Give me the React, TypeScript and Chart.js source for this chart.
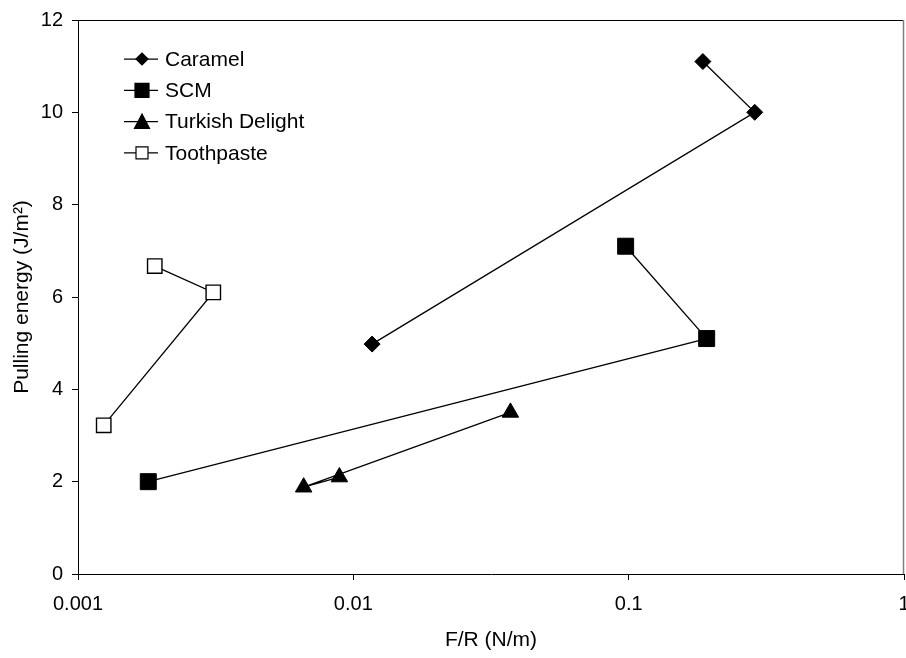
import React, { useEffect, useRef } from 'react';
import { Chart, registerables } from 'chart.js';

Chart.register(...registerables);

const seriesNames = ['Caramel', 'SCM', 'Turkish Delight', 'Toothpaste'];

const caramelX = [0.186, 0.287, 0.0117];
const caramelY = [11.1, 10.0, 4.98];

const scmX = [0.0975, 0.192, 0.0018];
const scmY = [7.1, 5.1, 2.0];

const turkishX = [0.0089, 0.0066, 0.0372];
const turkishY = [2.1, 1.88, 3.5];

const toothX = [0.0019, 0.0031, 0.00124];
const toothY = [6.67, 6.1, 3.22];

const xTicks = [0.001, 0.01, 0.1, 1];
const xTickLabels = ['0.001', '0.01', '0.1', '1'];
const yMin = 0;
const yMax = 12;
const yStep = 2;

const xTitle = 'F/R (N/m)';
const yTitle = 'Pulling energy (J/m²)';

const FONT = '"Liberation Sans", Arial, Helvetica, sans-serif';

function pts(xs: number[], ys: number[]) {
  return xs.map((x, i) => ({ x, y: ys[i] }));
}

function drawMarker(ctx: CanvasRenderingContext2D, style: string, x: number, y: number, size: number, fill: string) {
  ctx.beginPath();
  if (style === 'rectRot') {
    ctx.moveTo(x - size, y);
    ctx.lineTo(x, y - size);
    ctx.lineTo(x + size, y);
    ctx.lineTo(x, y + size);
    ctx.closePath();
  } else if (style === 'rect') {
    ctx.rect(x - size, y - size, size * 2, size * 2);
  } else if (style === 'triangle') {
    ctx.moveTo(x, y - size);
    ctx.lineTo(x + size, y + size * 0.9);
    ctx.lineTo(x - size, y + size * 0.9);
    ctx.closePath();
  }
  ctx.fillStyle = fill;
  ctx.fill();
  ctx.lineWidth = 1.2;
  ctx.strokeStyle = '#000';
  ctx.stroke();
}

const legendSizes = [6, 7, 7.5, 6];

const insideLegend = {
  id: 'insideLegend',
  afterDraw(chart: any) {
    const { ctx, chartArea } = chart;
    ctx.save();
    ctx.font = `21px ${FONT}`;
    ctx.textBaseline = 'middle';
    ctx.textAlign = 'left';
    chart.data.datasets.forEach((ds: any, i: number) => {
      const y = chartArea.top + 39 + i * 31.3;
      const x0 = chartArea.left + 46;
      ctx.strokeStyle = '#000';
      ctx.lineWidth = 1.25;
      ctx.beginPath();
      ctx.moveTo(x0, y);
      ctx.lineTo(x0 + 34, y);
      ctx.stroke();
      drawMarker(ctx, ds.pointStyle, x0 + 18, y, legendSizes[i], ds.pointBackgroundColor);
      ctx.fillStyle = '#000';
      ctx.fillText(ds.label, x0 + 41, y + 1);
    });
    ctx.restore();
  },
};

const frame = {
  id: 'frame',
  beforeDatasetsDraw(chart: any) {
    const { ctx, chartArea } = chart;
    ctx.save();
    ctx.lineWidth = 1;
    ctx.strokeStyle = '#000';
    ctx.beginPath();
    ctx.moveTo(chartArea.left, chartArea.top + 0.5);
    ctx.lineTo(chartArea.right, chartArea.top + 0.5);
    ctx.stroke();
    ctx.strokeStyle = '#808080';
    ctx.lineWidth = 1.5;
    ctx.beginPath();
    ctx.moveTo(chartArea.right - 0.5, chartArea.top);
    ctx.lineTo(chartArea.right - 0.5, chartArea.bottom);
    ctx.stroke();
    ctx.restore();
  },
};

const zeroPad = () => ({ left: 0, top: 0, right: 0, bottom: 0 });

export default function App() {
  const ref = useRef<HTMLCanvasElement | null>(null);

  useEffect(() => {
    document.body.style.margin = '0';
    if (!ref.current) return;
    Chart.defaults.color = '#000';
    Chart.defaults.font.family = FONT;
    const common = {
      showLine: true,
      borderColor: '#000',
      borderWidth: 1.3,
      tension: 0,
      pointBorderColor: '#000',
      pointBorderWidth: 1,
    };
    const chart = new Chart(ref.current, {
      type: 'scatter',
      data: {
        datasets: [
          { ...common, label: seriesNames[0], data: pts(caramelX, caramelY), pointStyle: 'rectRot', pointRadius: 8, pointBackgroundColor: '#000' },
          { ...common, label: seriesNames[1], data: pts(scmX, scmY), pointStyle: 'rect', pointRadius: 11.3, pointBackgroundColor: '#000' },
          { ...common, label: seriesNames[2], data: pts(turkishX, turkishY), pointStyle: 'triangle', pointRadius: 9.5, pointBackgroundColor: '#000' },
          { ...common, label: seriesNames[3], data: pts(toothX, toothY), pointStyle: 'rect', pointRadius: 10.2, pointBackgroundColor: '#fff', pointBorderWidth: 1.4 },
        ] as any,
      },
      options: {
        responsive: false,
        animation: false,
        events: [],
        layout: { autoPadding: false, padding: { top: 20, right: 2, left: 0, bottom: 0 } },
        plugins: {
          legend: { display: false },
          tooltip: { enabled: false },
        },
        scales: {
          x: {
            type: 'logarithmic',
            min: xTicks[0],
            max: xTicks[xTicks.length - 1],
            afterBuildTicks: (scale: any) => {
              scale.ticks = xTicks.map((v) => ({ value: v }));
            },
            afterFit: (scale: any) => {
              scale.height = 84;
              scale.paddingLeft = 0;
              scale.paddingRight = 0;
              scale.getPadding = zeroPad;
            },
            ticks: {
              autoSkip: false,
              maxRotation: 0,
              padding: 12,
              font: { size: 20 },
              color: '#000',
              callback: (_v: any, i: number) => xTickLabels[i],
            },
            grid: {
              display: true,
              drawOnChartArea: false,
              drawTicks: true,
              tickLength: 6,
              color: '#000',
              tickColor: '#000',
            },
            border: { display: true, color: '#000', width: 1 },
            title: { display: true, text: xTitle, font: { size: 21 }, color: '#000', padding: { top: 0, bottom: 5 } },
          },
          y: {
            type: 'linear',
            min: yMin,
            max: yMax,
            afterFit: (scale: any) => {
              scale.width = 78;
              scale.paddingTop = 0;
              scale.paddingBottom = 0;
              scale.getPadding = zeroPad;
            },
            ticks: {
              stepSize: yStep,
              padding: 9,
              font: { size: 20 },
              color: '#000',
            },
            grid: {
              display: true,
              drawOnChartArea: false,
              drawTicks: true,
              tickLength: 6,
              color: '#000',
              tickColor: '#000',
            },
            border: { display: true, color: '#000', width: 1 },
            title: { display: true, text: yTitle, font: { size: 21 }, color: '#000', padding: { top: 10, bottom: 0 } },
          },
        },
      } as any,
      plugins: [frame, insideLegend],
    });
    return () => chart.destroy();
  }, []);

  return (
    <div style={{ position: 'absolute', left: 0, top: 0, width: 906, height: 658, background: '#fff' }}>
      <canvas ref={ref} width={906} height={658} style={{ display: 'block', width: 906, height: 658 }} />
    </div>
  );
}
